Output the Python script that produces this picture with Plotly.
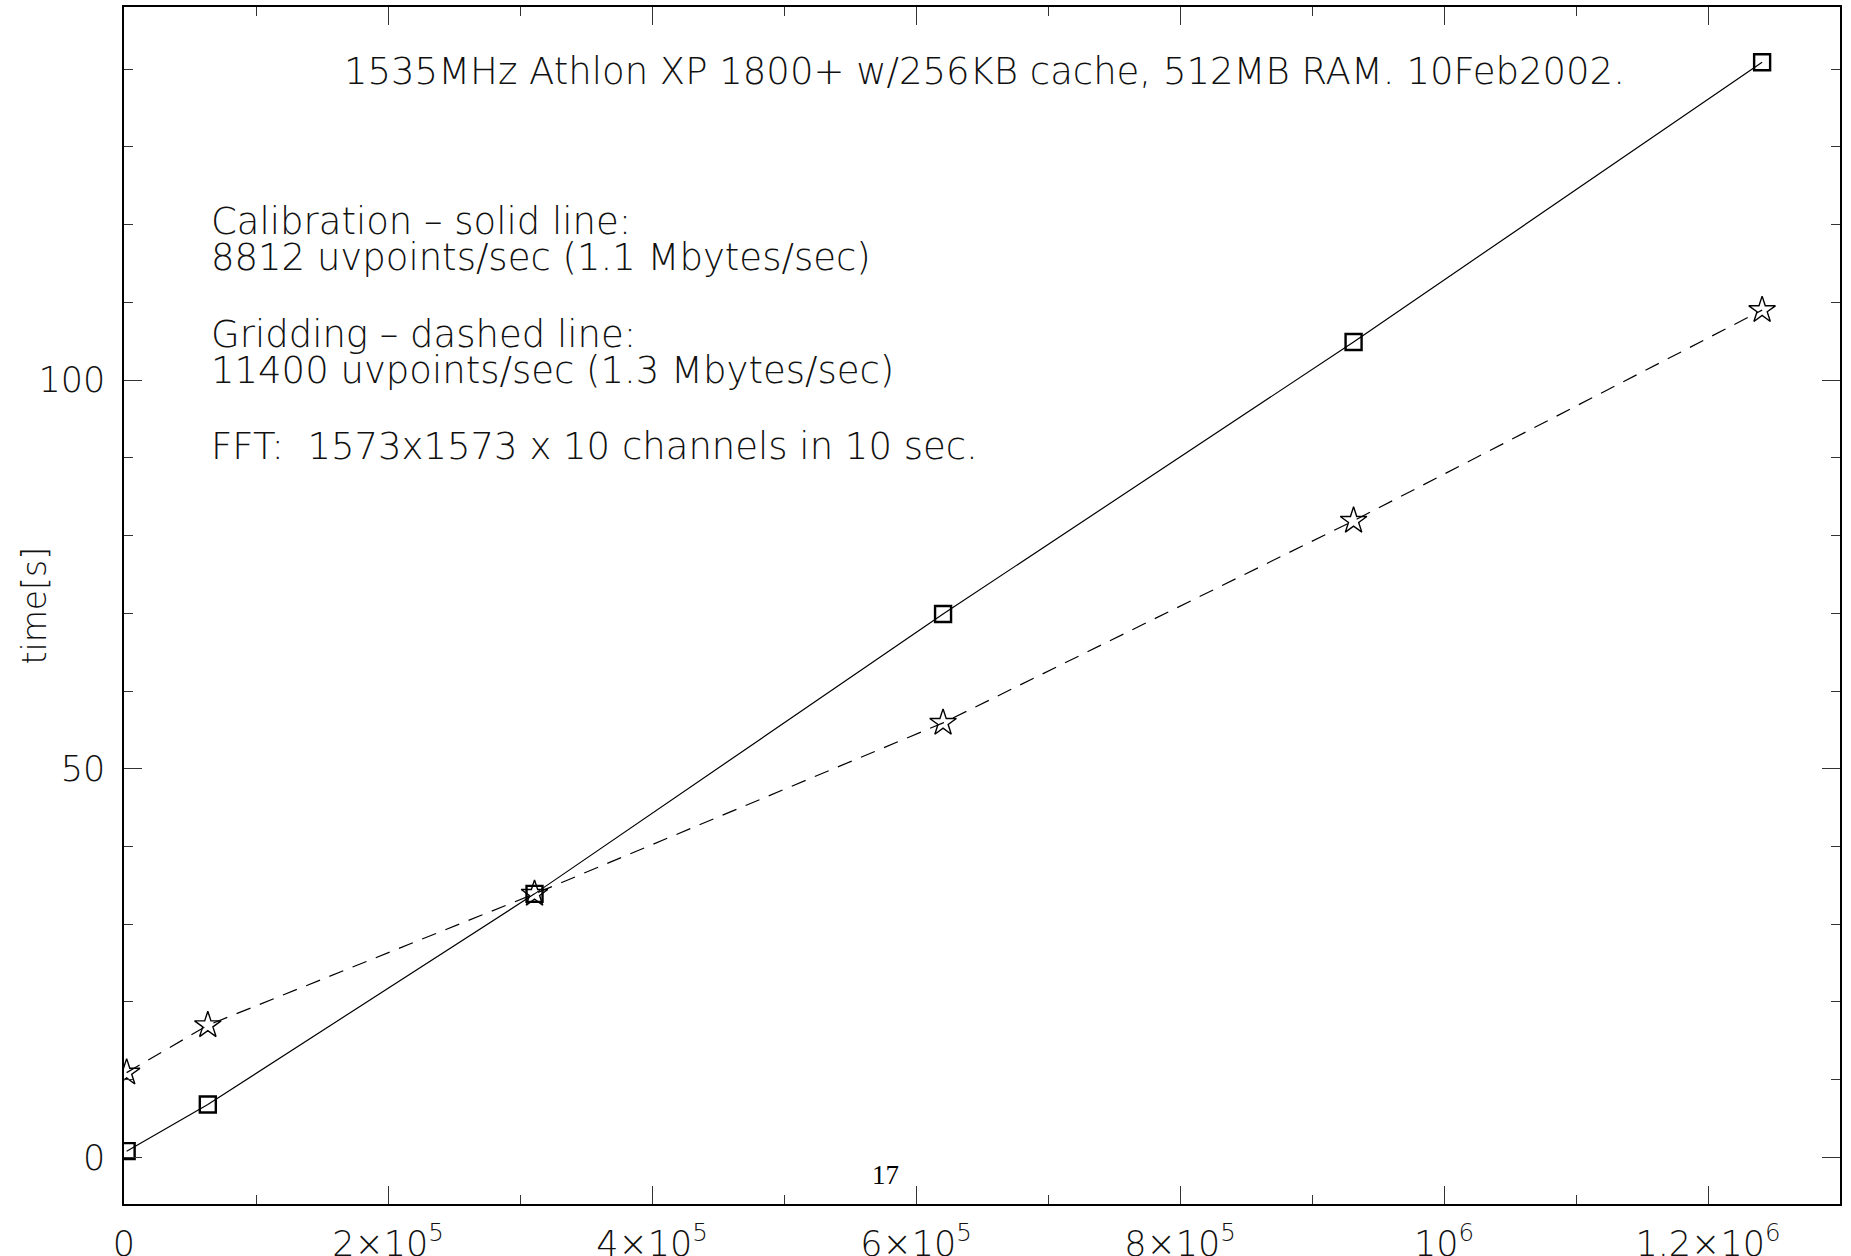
import plotly.graph_objects as go

# Data
uvpoints = [2000, 63500, 311000, 620500, 931500, 1241000]
calib_time = [0.8, 6.8, 33.9, 69.9, 104.9, 140.9]
grid_time = [10.9, 17.0, 33.9, 55.9, 81.9, 109.0]

x_tickvals = [0, 200000, 400000, 600000, 800000, 1000000, 1200000]
x_ticktext = ["0", "2×10<sup>5</sup>", "4×10<sup>5</sup>", "6×10<sup>5</sup>",
              "8×10<sup>5</sup>", "10<sup>6</sup>", "1.2×10<sup>6</sup>"]
y_tickvals = [0, 50, 100]
y_ticktext = ["0", "50", "100"]

title_text = "1535MHz Athlon XP 1800+ w/256KB cache, 512MB RAM. 10Feb2002."
info_lines = [
    "Calibration – solid line:",
    "8812 uvpoints/sec (1.1 Mbytes/sec)",
    "Gridding – dashed line:",
    "11400 uvpoints/sec (1.3 Mbytes/sec)",
    "FFT:  1573x1573 x 10 channels in 10 sec.",
]
info_y = [0.8204, 0.7911, 0.7268, 0.6967, 0.6332]

FONT = "DejaVu Sans, sans-serif"
TXT = "#111111"
W = 200

fig = go.Figure()
fig.add_trace(go.Scatter(
    x=uvpoints, y=calib_time, mode="lines+markers",
    line=dict(color="black", width=1.2),
    marker=dict(symbol="square-open", size=16, color="black", line=dict(width=2.4, color="black")),
    showlegend=False))
fig.add_trace(go.Scatter(
    x=uvpoints, y=grid_time, mode="lines+markers",
    line=dict(color="black", width=1.2, dash="15px,10px"),
    marker=dict(symbol="star-open", size=20, color="black", line=dict(width=1.4, color="black")),
    showlegend=False))

fig.add_annotation(text=title_text, xref="paper", yref="paper", x=0.5013, y=0.9465,
                   xanchor="center", yanchor="middle", showarrow=False,
                   font=dict(family=FONT, size=37, color=TXT, weight=W))
for t, yy in zip(info_lines, info_y):
    fig.add_annotation(text=t, xref="paper", yref="paper", x=0.0495, y=yy,
                       xanchor="left", yanchor="middle", showarrow=False,
                       font=dict(family=FONT, size=37, color=TXT, weight=W))
fig.add_annotation(text="17", xref="paper", yref="paper", x=0.4435, y=0.0242,
                   xanchor="center", yanchor="middle", showarrow=False,
                   font=dict(family="Liberation Serif, serif", size=27, color="black"))
fig.add_annotation(text="time[s]", xref="paper", yref="paper", x=-0.0519, y=0.5,
                   xanchor="center", yanchor="middle", textangle=-90, showarrow=False,
                   font=dict(family=FONT, size=33, color=TXT, weight=W))

fig.update_layout(
    width=1851, height=1256,
    margin=dict(l=124, r=11, t=7, b=52, pad=0),
    paper_bgcolor="white", plot_bgcolor="white",
    font=dict(family=FONT, size=34, color=TXT, weight=W),
    hovermode=False,
)
fig.update_xaxes(
    range=[0, 1300000], tickvals=x_tickvals, ticktext=x_ticktext, automargin=False,
    showgrid=False, zeroline=False, showline=True, linecolor="black", linewidth=1.5,
    mirror="ticks", ticks="inside", ticklen=18, tickwidth=1.2, tickcolor="#333333",
    ticklabelstandoff=8,
    tickfont=dict(family=FONT, size=35, color=TXT, weight=W),
    minor=dict(dtick=100000, tick0=0, ticks="inside", ticklen=9, tickwidth=1.2, tickcolor="#333333", showgrid=False),
)
fig.update_yaxes(
    range=[-6, 148], tickvals=y_tickvals, ticktext=y_ticktext, automargin=False,
    showgrid=False, zeroline=False, showline=True, linecolor="black", linewidth=1.5,
    mirror="ticks", ticks="inside", ticklen=18, tickwidth=1.2, tickcolor="#333333",
    ticklabelstandoff=10,
    tickfont=dict(family=FONT, size=35, color=TXT, weight=W),
    minor=dict(dtick=10, tick0=0, ticks="inside", ticklen=9, tickwidth=1.2, tickcolor="#333333", showgrid=False),
)

fig.write_html("out.html", config={"displayModeBar": False},
               post_script="document.body.style.margin='0';document.body.style.overflow='hidden';")
